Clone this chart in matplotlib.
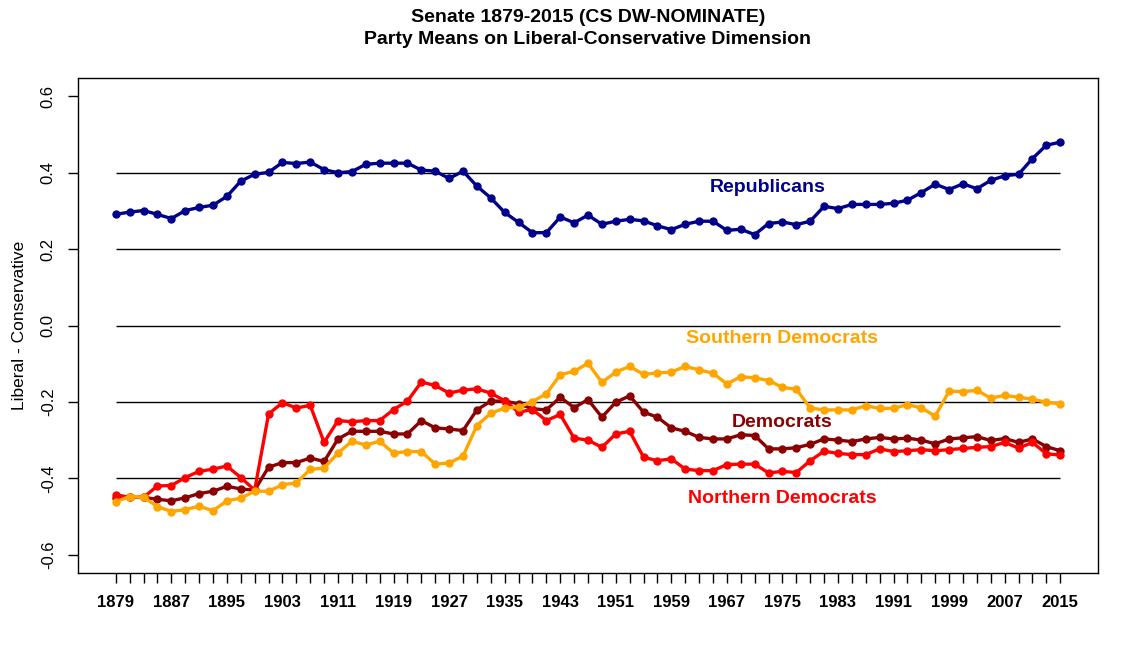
import numpy as np
import matplotlib
matplotlib.use("Agg")
import matplotlib.pyplot as plt

plt.rcParams['font.family'] = ['Liberation Sans', 'DejaVu Sans']

# one point per Congress, 1879-2015
years = list(range(1879, 2016, 2))

republicans = [
    0.291, 0.297, 0.301, 0.291, 0.280, 0.301, 0.309, 0.315, 0.338, 0.378,
    0.396, 0.401, 0.427, 0.424, 0.428, 0.408, 0.400, 0.403, 0.422, 0.425,
    0.425, 0.425, 0.407, 0.404, 0.385, 0.404, 0.365, 0.334, 0.296, 0.270,
    0.243, 0.243, 0.284, 0.269, 0.289, 0.265, 0.273, 0.278, 0.274, 0.261,
    0.251, 0.265, 0.273, 0.273, 0.249, 0.252, 0.238, 0.267, 0.271, 0.264,
    0.273, 0.312, 0.306, 0.317, 0.317, 0.317, 0.320, 0.328, 0.348, 0.370,
    0.356, 0.371, 0.358, 0.380, 0.392, 0.396, 0.437, 0.472, 0.480,
]

southern_dems = [
    -0.461, -0.448, -0.450, -0.474, -0.487, -0.482, -0.473, -0.485, -0.459, -0.452,
    -0.434, -0.434, -0.417, -0.412, -0.377, -0.373, -0.334, -0.303, -0.313, -0.303,
    -0.334, -0.330, -0.330, -0.363, -0.360, -0.342, -0.262, -0.230, -0.216, -0.214,
    -0.199, -0.179, -0.129, -0.120, -0.099, -0.149, -0.122, -0.107, -0.128, -0.124,
    -0.122, -0.107, -0.116, -0.125, -0.153, -0.134, -0.137, -0.144, -0.162, -0.167,
    -0.216, -0.221, -0.221, -0.221, -0.210, -0.217, -0.217, -0.207, -0.216, -0.237,
    -0.172, -0.173, -0.170, -0.190, -0.183, -0.188, -0.193, -0.201, -0.205,
]

democrats = [
    -0.452, -0.450, -0.450, -0.455, -0.459, -0.451, -0.440, -0.434, -0.421, -0.428,
    -0.431, -0.371, -0.359, -0.359, -0.347, -0.356, -0.297, -0.277, -0.277, -0.277,
    -0.284, -0.284, -0.249, -0.268, -0.271, -0.275, -0.221, -0.198, -0.198, -0.205,
    -0.218, -0.221, -0.188, -0.215, -0.194, -0.240, -0.201, -0.184, -0.227, -0.240,
    -0.268, -0.277, -0.293, -0.297, -0.297, -0.286, -0.288, -0.323, -0.323, -0.320,
    -0.311, -0.297, -0.300, -0.304, -0.297, -0.293, -0.297, -0.295, -0.300, -0.310,
    -0.297, -0.294, -0.291, -0.301, -0.296, -0.306, -0.297, -0.317, -0.328,
]

northern_dems = [
    -0.443, -0.450, -0.450, -0.420, -0.419, -0.398, -0.382, -0.376, -0.368, -0.398,
    -0.431, -0.232, -0.202, -0.216, -0.209, -0.306, -0.249, -0.252, -0.249, -0.249,
    -0.220, -0.198, -0.148, -0.157, -0.177, -0.169, -0.166, -0.177, -0.197, -0.227,
    -0.220, -0.249, -0.233, -0.295, -0.300, -0.319, -0.284, -0.277, -0.345, -0.354,
    -0.349, -0.376, -0.380, -0.380, -0.364, -0.363, -0.363, -0.386, -0.382, -0.385,
    -0.354, -0.329, -0.335, -0.338, -0.338, -0.323, -0.330, -0.328, -0.325, -0.328,
    -0.325, -0.322, -0.319, -0.317, -0.306, -0.321, -0.306, -0.336, -0.339,
]

grid_levels = [-0.4, -0.2, 0.0, 0.2, 0.4]
y_ticks = [-0.6, -0.4, -0.2, 0.0, 0.2, 0.4, 0.6]

fig = plt.figure(figsize=(11.39, 6.71), dpi=100)
ax = fig.add_axes([78 / 1139, 1 - 573 / 671, 1020 / 1139, 495 / 671])

ax.hlines(grid_levels, years[0], years[-1], colors='black', linewidth=1.0, zorder=1)

series = [
    (republicans, '#00008B'),
    (democrats, '#8B0000'),
    (northern_dems, '#FF0000'),
    (southern_dems, '#FFA500'),
]
for vals, col in series:
    ax.plot(years, vals, color=col, linewidth=2.4, marker='o', markersize=5, zorder=3)

# labels on the lines
lbl = dict(fontsize=14, fontweight='bold', ha='center', va='center')
ax.text(1972.9, 0.362, 'Republicans', color='#00008B', **lbl)
ax.text(1975.0, -0.034, 'Southern Democrats', color='#FFA500', **lbl)
ax.text(1975.0, -0.254, 'Democrats', color='#8B0000', **lbl)
ax.text(1975.0, -0.453, 'Northern Democrats', color='#FF0000', **lbl)

ax.set_xlim(1873.56, 2020.44)
ax.set_ylim(-0.648, 0.648)

ax.set_xticks(years)
ax.set_xticklabels([str(y) if (y - 1879) % 8 == 0 else '' for y in years],
                   fontsize=12, fontweight='bold')
ax.set_yticks(y_ticks)
ax.set_yticklabels(['%.1f' % v for v in y_ticks], fontsize=12)
plt.setp(ax.get_yticklabels(), rotation=90, va='center')
ax.tick_params(axis='both', direction='out', length=7, width=1, color='black', pad=9)

for sp in ax.spines.values():
    sp.set_linewidth(1.0)

ax.set_ylabel('Liberal - Conservative', fontsize=12.5, labelpad=10)

fig.text(588 / 1139, 1 - 17 / 671, 'Senate 1879-2015 (CS DW-NOMINATE)',
         ha='center', va='center', fontsize=14, fontweight='bold')
fig.text(588 / 1139, 1 - 40 / 671, 'Party Means on Liberal-Conservative Dimension',
         ha='center', va='center', fontsize=14, fontweight='bold')

fig.savefig('out.png', dpi=100)
